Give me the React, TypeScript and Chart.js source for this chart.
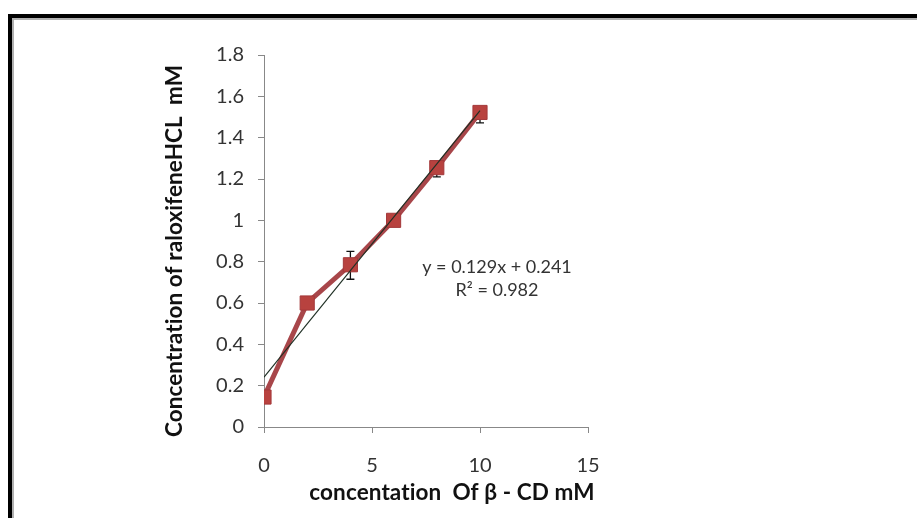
import React, { useEffect, useRef } from "react";
import { Chart, registerables } from "chart.js";

Chart.register(...registerables);

const xValues = [0, 2, 4, 6, 8, 10];
const yValues = [0.145, 0.6, 0.785, 1.0, 1.255, 1.522];
const yErrPlus = [0, 0, 0.065, 0, 0.02, 0.02];
const yErrMinus = [0, 0, 0.07, 0, 0.045, 0.05];
const trendX = [0, 10];
const trendY = [0.241, 1.531];
const xTicks = [0, 5, 10, 15];
const yTicks = [0, 0.2, 0.4, 0.6, 0.8, 1, 1.2, 1.4, 1.6, 1.8];
const equationLines = ["y = 0.129x + 0.241", "R² = 0.982"];
const xTitle = "concentation  Of β - CD mM";
const yTitle = "Concentration of raloxifeneHCL  mM";

const FONT = "Lato, 'Open Sans', sans-serif";

const decorPlugin = {
  id: "decor",
  beforeDraw(chart: any) {
    const ctx = chart.ctx;
    ctx.save();
    ctx.fillStyle = "#ffffff";
    ctx.fillRect(0, 0, chart.width, chart.height);
    ctx.fillStyle = "#000000";
    ctx.fillRect(8, 14, chart.width - 8, 4);
    ctx.fillRect(8, 14, 4, chart.height - 14);
    ctx.fillStyle = "#b0b0b0";
    ctx.fillRect(12, 18, chart.width - 12, 2);
    ctx.fillRect(12, 18, 2, chart.height - 18);
    ctx.restore();
  },
  beforeDatasetsDraw(chart: any) {
    const ctx = chart.ctx;
    const xs = chart.scales.x;
    const ys = chart.scales.y;
    ctx.save();
    ctx.strokeStyle = "#111111";
    ctx.lineWidth = 1.3;
    xValues.forEach((xv, i) => {
      if (!yErrPlus[i] && !yErrMinus[i]) return;
      const px = xs.getPixelForValue(xv);
      const top = ys.getPixelForValue(yValues[i] + yErrPlus[i]);
      const bot = ys.getPixelForValue(yValues[i] - yErrMinus[i]);
      ctx.beginPath();
      ctx.moveTo(px, top);
      ctx.lineTo(px, bot);
      ctx.moveTo(px - 4, top);
      ctx.lineTo(px + 4, top);
      ctx.moveTo(px - 4, bot);
      ctx.lineTo(px + 4, bot);
      ctx.stroke();
    });
    ctx.restore();
  },
  afterDatasetsDraw(chart: any) {
    const ctx = chart.ctx;
    ctx.save();
    ctx.fillStyle = "#333333";
    ctx.font = "18px " + FONT;
    ctx.textAlign = "center";
    ctx.textBaseline = "middle";
    ctx.fillText(equationLines[0], 497, 267);
    ctx.fillText(equationLines[1], 497, 290);
    ctx.fillStyle = "#111111";
    (ctx as any).letterSpacing = "0.1px";
    ctx.font = "bold 22.5px " + FONT;
    ctx.fillText(xTitle, 452, 493);
    ctx.translate(175, 251);
    ctx.rotate(-Math.PI / 2);
    ctx.font = "bold 22.5px " + FONT;
    ctx.fillText(yTitle, 0, 0);
    ctx.restore();
  },
};

export default function App() {
  const ref = useRef<HTMLCanvasElement>(null);
  useEffect(() => {
    document.body.style.margin = "0";
    const chart = new Chart(ref.current!, {
      type: "scatter",
      data: {
        datasets: [
          {
            label: "trend",
            data: trendX.map((x, i) => ({ x, y: trendY[i] })),
            showLine: true,
            borderColor: "#1f2f24",
            borderWidth: 1.2,
            pointRadius: 0,
            order: 0,
          },
          {
            label: "data",
            data: xValues.map((x, i) => ({ x, y: yValues[i] })),
            showLine: true,
            borderColor: "rgba(158,50,54,0.9)",
            borderWidth: 5,
            pointStyle: "rect",
            pointRadius: 10,
            pointBackgroundColor: "#b8423f",
            pointBorderColor: "#a3383a",
            pointBorderWidth: 1,
            order: 1,
          },
        ],
      },
      options: {
        responsive: false,
        animation: false,
        layout: { padding: { left: 184, right: 329, top: 55, bottom: 31 } },
        plugins: { legend: { display: false }, tooltip: { enabled: false } },
        scales: {
          x: {
            type: "linear",
            min: xTicks[0],
            max: xTicks[xTicks.length - 1],
            afterBuildTicks: (s: any) => { s.ticks = xTicks.map((v) => ({ value: v })); },
            ticks: { color: "#333", font: { size: 20, family: FONT }, padding: 21 },
            grid: { drawOnChartArea: false, drawTicks: true, tickLength: 6, color: "#888" },
            border: { color: "#888", width: 1 },
            afterFit: (s: any) => { s.height = 60; },
          },
          y: {
            type: "linear",
            min: yTicks[0],
            max: yTicks[yTicks.length - 1],
            afterBuildTicks: (s: any) => { s.ticks = yTicks.map((v) => ({ value: v })); },
            ticks: {
              color: "#333",
              font: { size: 20, family: FONT },
              padding: 14,
              callback: (v: any) => String(Math.round(Number(v) * 10) / 10),
            },
            grid: { drawOnChartArea: false, drawTicks: true, tickLength: 6, color: "#888" },
            border: { color: "#888", width: 1 },
            afterFit: (s: any) => { s.width = 80; },
          },
        },
      },
      plugins: [decorPlugin],
    });
    return () => chart.destroy();
  }, []);
  return <canvas ref={ref} width={917} height={518} style={{ display: "block" }} />;
}
